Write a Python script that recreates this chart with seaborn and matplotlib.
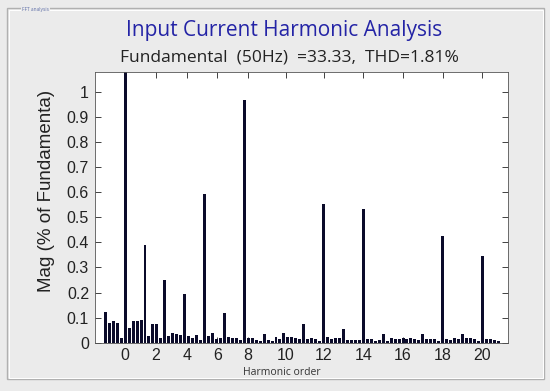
import numpy as np
import pandas as pd
import matplotlib
matplotlib.use("Agg")
import matplotlib.pyplot as plt
import seaborn as sns
from matplotlib.patches import Rectangle

# %% Data (magnitude per FFT bin, % of fundamental)
mag = [
    0.123, 0.077, 0.086, 0.077, 0.020, 1.100, 0.057, 0.086, 0.086, 0.090,
    0.390, 0.026, 0.076, 0.073, 0.020, 0.250, 0.026, 0.037, 0.035, 0.030,
    0.194, 0.026, 0.019, 0.030, 0.010, 0.595, 0.027, 0.037, 0.014, 0.019,
    0.117, 0.021, 0.018, 0.018, 0.010, 0.968, 0.017, 0.017, 0.012, 0.008,
    0.033, 0.012, 0.008, 0.022, 0.016, 0.040, 0.023, 0.023, 0.017, 0.013,
    0.074, 0.013, 0.017, 0.013, 0.008, 0.555, 0.023, 0.016, 0.018, 0.018,
    0.056, 0.010, 0.010, 0.010, 0.010, 0.532, 0.015, 0.016, 0.006, 0.012,
    0.034, 0.007, 0.017, 0.015, 0.015, 0.017, 0.015, 0.020, 0.015, 0.010,
    0.034, 0.013, 0.013, 0.013, 0.007, 0.425, 0.013, 0.010, 0.019, 0.013,
    0.035, 0.017, 0.017, 0.015, 0.008, 0.345, 0.013, 0.013, 0.010, 0.007,
]
xtick_labels = ["0", "2", "4", "6", "8", "10", "12", "14", "16", "18", "20"]
ytick_values = [0, 0.1, 0.2, 0.3, 0.4, 0.5, 0.6, 0.7, 0.8, 0.9, 1.0]
ytick_labels = ["0", "0.1", "0.2", "0.3", "0.4", "0.5", "0.6", "0.7", "0.8", "0.9", "1"]

title = "Input Current Harmonic Analysis"
subtitle = "Fundamental  (50Hz)  =33.33,  THD=1.81%"

df = pd.DataFrame({"bin": np.arange(len(mag)), "mag": mag})

# %% Plot
sns.set_style("white")
bg = "#ebebeb"
fig = plt.figure(figsize=(5.5, 3.91), dpi=100, facecolor=bg)
ax = fig.add_axes([0.172, 0.124, 0.752, 0.692])
ax.set_facecolor("white")

sns.barplot(data=df, x="bin", y="mag", color="#0b0b2a", saturation=1,
            width=0.75, ax=ax, errorbar=None)
for p in ax.patches:
    p.set_edgecolor("none")

ax.set_xlim(-2.7, 101.5)
ax.set_ylim(0, 1.082)

# tick positions (bin index) where the labels sit
xtick_pos = [5, 12.75, 20.5, 28.25, 36, 45.4, 55, 65, 75, 85, 95]
ax.set_xticks(xtick_pos)
ax.set_xticklabels(xtick_labels, fontsize=11.5, family="Liberation Sans", color="#222222")
ax.set_yticks(ytick_values)
ax.set_yticklabels(ytick_labels, fontsize=11.5, family="Liberation Sans", color="#222222")

ax.tick_params(direction="in", length=4, width=0.6, top=True, right=True,
               bottom=True, left=True, pad=4, colors="#222222")

ax.set_xlabel("")
ax.set_ylabel("")
for spine in ax.spines.values():
    spine.set_color("#555555")
    spine.set_linewidth(0.6)

fig.text(0.084, 0.512, "Mag (% of Fundamenta)", rotation=90, ha="center", va="center",
         fontsize=13.5, family="Liberation Sans", color="#222222")
fig.text(0.513, 0.048, "Harmonic order", ha="center", va="center",
         fontsize=7.5, family="Open Sans", color="#333333")

fig.text(0.516, 0.922, title, ha="center", va="center",
         fontsize=15, family="Open Sans", fontweight="medium", color="#2424a6")
fig.text(0.527, 0.853, subtitle, ha="center", va="center",
         fontsize=12.5, family="Open Sans", color="#222222")

# group box frame
fig.patches.append(Rectangle((7 / 550, 1 - 379 / 391), 537 / 550, 371 / 391,
                             transform=fig.transFigure, fill=False,
                             edgecolor="#b0b0b0", linewidth=1.0))
fig.patches.append(Rectangle((8.5 / 550, 1 - 377.5 / 391), 534 / 550, 368 / 391,
                             transform=fig.transFigure, fill=False,
                             edgecolor="white", linewidth=0.7))
fig.text(22 / 550, 1 - 9 / 391, "FFT analysis", ha="left", va="center",
         fontsize=3.5, family="Open Sans", color="#6070a8",
         bbox=dict(facecolor=bg, edgecolor="none", pad=1.0))

fig.savefig("out.png", dpi=100, facecolor=bg)
plt.close(fig)
